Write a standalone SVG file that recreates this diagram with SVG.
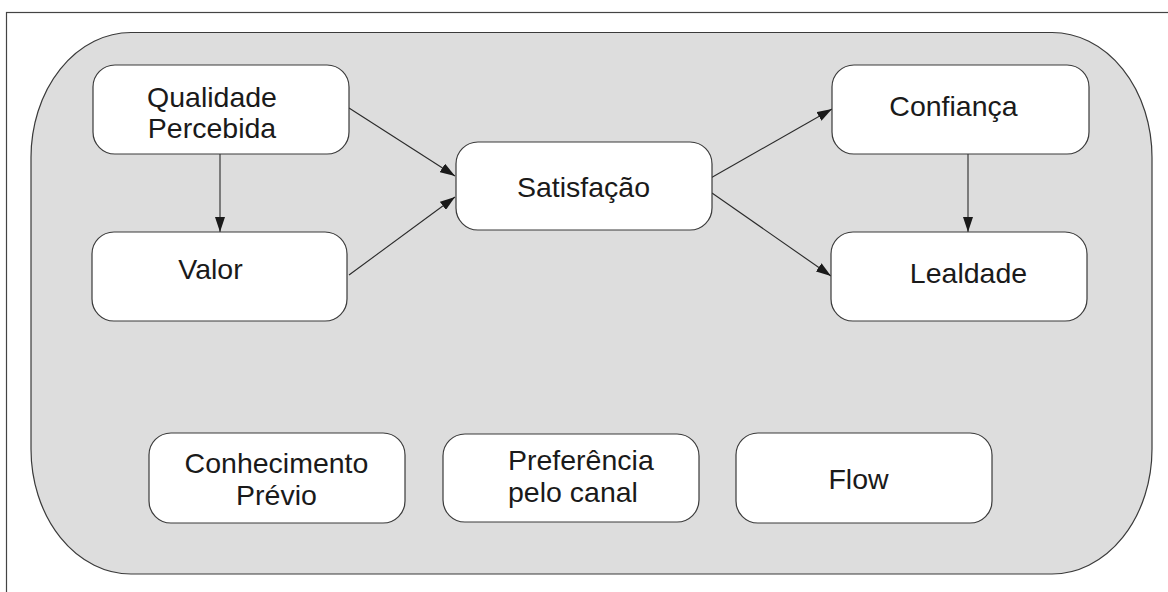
<svg xmlns="http://www.w3.org/2000/svg" width="1168" height="592" viewBox="0 0 1168 592">
<style>
.node{fill:#ffffff;stroke:#3a3a3a;stroke-width:1.2}
.t{font-family:"Liberation Sans",Arial,sans-serif;font-size:28.5px;fill:#1a1a1a}
.c{text-anchor:middle}
.edge{stroke:#2a2a2a;stroke-width:1.1;fill:none;marker-end:url(#ah)}
</style>
<defs>
<marker id="ah" viewBox="0 0 15 10" refX="15" refY="5" markerWidth="15" markerHeight="10" markerUnits="userSpaceOnUse" orient="auto">
<path d="M0,0 L15,5 L0,10 Z" fill="#1a1a1a"/>
</marker>
</defs>
<rect x="0" y="0" width="1168" height="592" fill="#ffffff"/>
<rect x="6.5" y="12.5" width="1200" height="620" fill="none" stroke="#444" stroke-width="1.2"/>
<rect id="container" x="31" y="32.5" width="1121" height="541.5" rx="100" ry="125" fill="#dddddd" stroke="#3a3a3a" stroke-width="1.2"/>
<g id="connectors">
<line class="edge" x1="220" y1="154" x2="220" y2="232"/>
<line class="edge" x1="968" y1="154" x2="968" y2="232"/>
<line class="edge" x1="349" y1="108" x2="455" y2="176"/>
<line class="edge" x1="349" y1="275" x2="455" y2="197"/>
<line class="edge" x1="709" y1="179" x2="832" y2="109"/>
<line class="edge" x1="712" y1="193" x2="831" y2="276"/>
</g>
<g id="qualidade">
<rect class="node" x="93" y="65" width="256" height="89" rx="22"/>
<text class="t c" x="212" y="107">Qualidade</text>
<text class="t c" x="212" y="138">Percebida</text>
</g>
<g id="valor">
<rect class="node" x="92" y="232" width="255" height="89" rx="22"/>
<text class="t c" x="210.5" y="279">Valor</text>
</g>
<g id="satisfacao">
<rect class="node" x="456" y="142" width="256" height="88" rx="22"/>
<text class="t c" x="583.5" y="197">Satisfação</text>
</g>
<g id="confianca">
<rect class="node" x="832" y="65" width="257" height="89" rx="22"/>
<text class="t c" x="953.5" y="116">Confiança</text>
</g>
<g id="lealdade">
<rect class="node" x="831" y="232" width="256" height="89" rx="22"/>
<text class="t c" x="968.5" y="283">Lealdade</text>
</g>
<g id="conhecimento">
<rect class="node" x="149" y="433" width="256" height="90" rx="22"/>
<text class="t c" x="276.5" y="473">Conhecimento</text>
<text class="t c" x="276.5" y="505">Prévio</text>
</g>
<g id="preferencia">
<rect class="node" x="443" y="434" width="256" height="88" rx="22"/>
<text class="t" x="508" y="470">Preferência</text>
<text class="t" x="508" y="502">pelo canal</text>
</g>
<g id="flow">
<rect class="node" x="736" y="433" width="256" height="90" rx="22"/>
<text class="t c" x="858.5" y="489">Flow</text>
</g>
</svg>
